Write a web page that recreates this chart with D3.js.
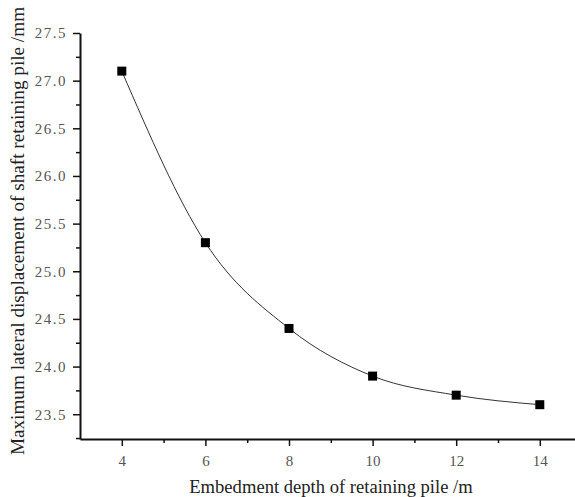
<!DOCTYPE html>
<html>
<head>
<meta charset="utf-8">
<script src="https://cdn.jsdelivr.net/npm/d3@7"></script>
<style>
  body { margin: 0; background: #fff; }
  svg { display: block; }
  svg text { font-family: "Liberation Serif", "Times New Roman", "DejaVu Serif", serif; }
  .tick text { fill: #555; }
</style>
</head>
<body>
<svg id="chart"></svg>
<script>
const depths = [4, 6, 8, 10, 12, 14];
const displacements = [27.1, 25.3, 24.4, 23.9, 23.7, 23.6];
const xTicks = [4, 6, 8, 10, 12, 14];
const yTicks = [23.5, 24.0, 24.5, 25.0, 25.5, 26.0, 26.5, 27.0, 27.5];

const W = 575, H = 497;
const svg = d3.select("#chart").attr("width", W).attr("height", H);

const x = d3.scaleLinear().domain([3, 15]).range([80, 581.6]);
const y = d3.scaleLinear().domain([23.24, 27.5]).range([439, 33]);

// minor ticks
svg.append("g")
  .attr("transform", "translate(0,439)")
  .call(d3.axisBottom(x).tickValues(d3.range(5, 15, 2)).tickSize(4).tickFormat(""))
  .call(g => g.select(".domain").remove())
  .selectAll("line").attr("stroke", "#111").attr("stroke-width", 1.5);

svg.append("g")
  .attr("transform", "translate(80,0)")
  .call(d3.axisLeft(y).tickValues(d3.range(23.25, 27.5, 0.5)).tickSize(4).tickFormat(""))
  .call(g => g.select(".domain").remove())
  .selectAll("line").attr("stroke", "#111").attr("stroke-width", 1.5);

// major axes
const xAxis = svg.append("g")
  .attr("transform", "translate(0,439)")
  .call(d3.axisBottom(x).tickValues(xTicks).tickSize(7).tickSizeOuter(0).tickPadding(9));
xAxis.selectAll("text").attr("font-size", 15);

const yAxis = svg.append("g")
  .attr("transform", "translate(80,0)")
  .call(d3.axisLeft(y).tickValues(yTicks).tickSize(7).tickSizeOuter(0).tickPadding(6)
    .tickFormat(d => d.toFixed(1)));
yAxis.selectAll("text").attr("font-size", 15).attr("letter-spacing", 1.5);

[xAxis, yAxis].forEach(a => {
  a.attr("font-family", null);
  a.select(".domain").attr("stroke", "#111").attr("stroke-width", 2);
  a.selectAll(".tick line").attr("stroke", "#111").attr("stroke-width", 1.5);
});

// curve
const pts = depths.map((d, i) => [d, displacements[i]]);
svg.append("path")
  .datum(pts)
  .attr("fill", "none")
  .attr("stroke", "#333")
  .attr("stroke-width", 1)
  .attr("d", d3.line().x(d => x(d[0])).y(d => y(d[1])).curve(d3.curveMonotoneX));

const s = 9;
svg.selectAll("rect.pt")
  .data(pts)
  .join("rect")
  .attr("class", "pt")
  .attr("x", d => x(d[0]) - s / 2)
  .attr("y", d => y(d[1]) - s / 2)
  .attr("width", s)
  .attr("height", s)
  .attr("fill", "#000");

// titles
svg.append("text")
  .attr("x", 331)
  .attr("y", 493)
  .attr("text-anchor", "middle")
  .attr("font-size", 18.6)
  .attr("fill", "#222")
  .text("Embedment depth of retaining pile /m");

svg.append("text")
  .attr("transform", "translate(24,231) rotate(-90)")
  .attr("text-anchor", "middle")
  .attr("font-size", 19.2)
  .attr("fill", "#222")
  .text("Maximum lateral displacement of shaft retaining pile /mm");
</script>
</body>
</html>
